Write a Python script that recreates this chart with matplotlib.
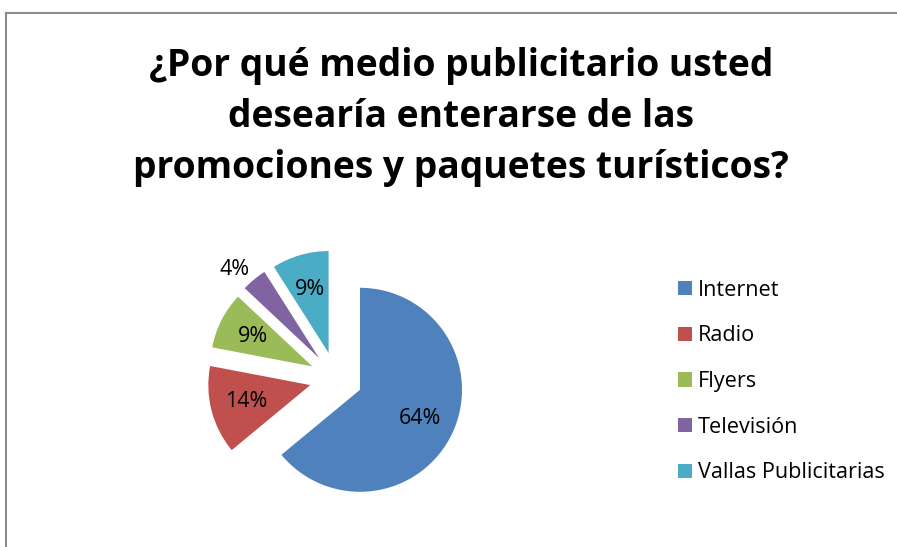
import numpy as np
import matplotlib
matplotlib.use("Agg")
import matplotlib.pyplot as plt
from matplotlib.lines import Line2D

categories = ["Internet", "Radio", "Flyers", "Televisión", "Vallas Publicitarias"]
values = [64, 14, 9, 4, 9]
colors = ["#4F81BD", "#C0504D", "#9BBB59", "#8064A2", "#4BACC6"]
title_lines = ["¿Por qué medio publicitario usted",
               "desearía enterarse de las",
               "promociones y paquetes turísticos?"]

plt.rcParams['font.family'] = ['Open Sans', 'DejaVu Sans']

W, H = 897, 547
fig = plt.figure(figsize=(W / 100, H / 100), dpi=100)

# chart frame (top and left edges visible)
fig.add_artist(Line2D([5.5 / W, 1], [1 - 13 / H, 1 - 13 / H], transform=fig.transFigure,
                      color="#8c8c8c", lw=1.5))
fig.add_artist(Line2D([5.5 / W, 5.5 / W], [1 - 13 / H, 0], transform=fig.transFigure,
                      color="#8c8c8c", lw=1.5))

# title
baselines = [76, 127, 178]
for line, yb in zip(title_lines, baselines):
    fig.text(461 / W, 1 - yb / H, line, ha="center", va="baseline",
             fontsize=26.8, fontweight="bold", color="black")

cx, cy, R = 336, 378.5, 102
half = 1.6 * R
ax = fig.add_axes([(cx - half) / W, (H - cy - half) / H, 2 * half / W, 2 * half / H])
wedges, texts, autotexts = ax.pie(values, colors=colors, startangle=90, counterclock=False,
                                  explode=[0.26] * len(values), autopct='%1.0f%%',
                                  pctdistance=0.65, textprops=dict(fontsize=15.5, color="black"),
                                  wedgeprops=dict(linewidth=0))
ax.set_xlim(-1.6, 1.6)
ax.set_ylim(-1.6, 1.6)
ax.set_aspect('equal')
ax.axis('off')

# small slice label placed outside (best fit)
w = wedges[3]
mid = np.deg2rad((w.theta1 + w.theta2) / 2 + 4)
c = np.array(w.center)
autotexts[3].set_position((c[0] + 1.2 * np.cos(mid), c[1] + 1.2 * np.sin(mid)))

fig.legend(wedges, categories, loc="upper left", bbox_to_anchor=(669 / W, 1 - 271 / H),
           frameon=False, fontsize=15.6, handlelength=0.65, handleheight=0.65,
           handletextpad=0.3, labelspacing=1.14, borderaxespad=0)

fig.savefig("out.png", dpi=100)
